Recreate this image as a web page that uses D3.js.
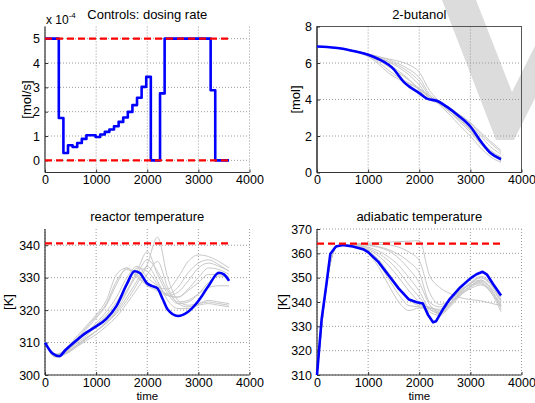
<!DOCTYPE html>
<html>
<head>
<meta charset="utf-8">
<script src="https://cdn.jsdelivr.net/npm/d3@7"></script>
<style>
  body { margin: 0; background: #fff; }
  svg text { font-family: Arial, "Liberation Sans", Helvetica, sans-serif; fill: #000; }
</style>
</head>
<body>
<div id="chart"></div>
<script>
// ---- data ----
// dosing rate, step changes, units of 1e-4 mol/s
const doseTimes = [0, 270, 360, 450, 540, 630, 720, 810, 990, 1080, 1170, 1260, 1350, 1440, 1530, 1620, 1710, 1800, 1890, 1980, 2070, 2250, 2340, 3240, 3330, 3600];
const doseRates = [5, 1.74, 0.30, 0.62, 0.55, 0.71, 0.88, 1.03, 0.96, 1.06, 1.17, 1.27, 1.40, 1.58, 1.76, 1.99, 2.27, 2.57, 3.02, 3.43, 0, 2.75, 5, 2.88, 0, 0];
const doseBounds = [0, 5];

// shared time grid of the grey (uncertain) runs
const gridTimes = [0, 200, 400, 600, 800, 1000, 1200, 1400, 1600, 1800, 2000, 2200, 2400, 2600, 2800, 3000, 3200, 3400, 3600];

// 2-butanol [mol]
const butanolTimes = [0, 200, 400, 600, 800, 1000, 1200, 1400, 1500, 1600, 1700, 1800, 2000, 2150, 2350, 2550, 2750, 3000, 3200, 3400, 3600];
const butanolNominal = [6.9, 6.88, 6.82, 6.73, 6.6, 6.45, 6.22, 5.9, 5.66, 5.3, 4.95, 4.72, 4.35, 4.05, 3.92, 3.58, 3.15, 2.52, 1.72, 1.05, 0.73];
const butanolRuns = [
  [6.9, 6.88, 6.82, 6.73, 6.62, 6.5, 6.35, 6.22, 6.1, 5.9, 5.5, 4.5, 3.9, 3.5, 3.1, 2.7, 2.1, 1.6, 1.1],
  [6.9, 6.88, 6.82, 6.73, 6.6, 6.45, 6.28, 6.05, 5.75, 5.35, 4.8, 4.1, 3.85, 3.5, 3.05, 2.6, 2.0, 1.4, 1.0],
  [6.9, 6.88, 6.82, 6.72, 6.58, 6.35, 5.95, 5.45, 5.1, 4.85, 4.6, 4.2, 3.7, 3.15, 2.55, 2.0, 1.35, 0.85, 0.55],
  [6.9, 6.88, 6.82, 6.72, 6.58, 6.4, 6.05, 5.6, 5.2, 4.9, 4.55, 4.1, 3.8, 3.3, 2.75, 2.2, 1.55, 1.0, 0.65],
  [6.9, 6.88, 6.82, 6.73, 6.6, 6.42, 6.15, 5.8, 5.45, 5.05, 4.6, 4.1, 3.85, 3.45, 2.95, 2.4, 1.75, 1.15, 0.8],
  [6.9, 6.88, 6.82, 6.73, 6.61, 6.48, 6.3, 6.1, 5.85, 5.5, 5.0, 4.2, 3.8, 3.4, 2.9, 2.35, 1.7, 1.2, 0.85],
  [6.9, 6.88, 6.82, 6.73, 6.6, 6.45, 6.22, 5.92, 5.55, 5.1, 4.5, 4.0, 3.75, 3.3, 2.85, 2.3, 1.6, 1.05, 0.7],
  [6.9, 6.88, 6.82, 6.73, 6.62, 6.5, 6.35, 6.18, 5.95, 5.65, 5.2, 4.3, 3.9, 3.55, 3.15, 2.75, 2.2, 1.7, 1.2]
];

// reactor temperature [K]
const reactorTimes = [0, 150, 280, 400, 600, 800, 1000, 1200, 1400, 1600, 1750, 1850, 2000, 2100, 2200, 2300, 2400, 2600, 2800, 3000, 3200, 3400, 3500, 3600];
const reactorNominal = [310, 306.6, 305.8, 307.7, 310.5, 313, 315, 317.3, 321.3, 328, 332, 331.5, 328.2, 327.4, 326.7, 323.5, 320.2, 318.2, 319.5, 322.8, 327.5, 331.5, 331, 329];
const reactorRuns = [
  [310, 306, 308, 311.5, 315, 318.5, 323, 331, 333, 330, 328, 327, 326.5, 330, 335, 337, 336.5, 335, 333],
  [310, 306, 307.5, 310.5, 314, 317.5, 321.5, 328, 333, 331, 328, 326.5, 325, 327, 331.5, 334.5, 335.5, 334, 332],
  [310, 306.5, 307.5, 310, 313, 316, 319.5, 324, 330, 333.5, 330, 327.5, 324.5, 324, 326.5, 330, 333, 332.5, 331],
  [310, 306, 307, 309.5, 312, 315, 318, 321.5, 326, 332, 338, 331, 325, 322, 322.5, 325, 328.5, 330.5, 330],
  [310, 306, 306.5, 308.5, 311, 313.5, 316, 319, 323, 328, 334, 342.5, 330, 323, 321.5, 322, 322.5, 322, 321.5],
  [310, 305.5, 306.5, 308.5, 310.5, 312.5, 315, 318, 322, 326.5, 331, 335, 327, 322, 321, 322, 323, 322.5, 322],
  [310, 305.8, 306.8, 309, 311.5, 313.5, 316, 319.5, 324, 329, 333.5, 329, 323, 320.5, 320.5, 321.5, 322, 321.5, 321],
  [310, 306, 307.2, 309.8, 312.8, 315.5, 318.5, 322.5, 327.5, 333, 332, 328, 324.5, 324, 326, 328.5, 331, 331, 330],
  [310, 306.2, 307.8, 310.8, 314.5, 318, 322, 329, 332.5, 330.5, 327.5, 326, 324.5, 325.5, 329, 333, 334.5, 333.5, 332],
  [310, 305.7, 306.6, 308.8, 311.2, 313.5, 316.5, 320, 325.5, 331, 335.5, 332, 326, 322.5, 323, 325, 327, 327.5, 327.5]
];
const reactorLimit = 340.6;

// adiabatic temperature [K]
const adiabTimes = [0, 90, 180, 260, 370, 500, 700, 900, 1000, 1200, 1400, 1600, 1800, 1950, 2070, 2170, 2270, 2330, 2460, 2600, 2800, 3000, 3120, 3240, 3320, 3450, 3600];
const adiabNominal = [310, 332.8, 346.6, 359.7, 362.8, 363.4, 362.8, 361.7, 360.5, 356.5, 351, 345.5, 341, 339.9, 339.4, 334.8, 331.7, 332.1, 336.9, 341.3, 346, 349.7, 351.4, 352.4, 351.4, 347.2, 342.7];
const adiabRuns = [
  [310, 349, 363, 363.6, 364, 364.2, 364.4, 364.6, 364.8, 365, 365.2, 351, 346, 343.5, 341.8, 341, 340.5, 339.5, 338.5],
  [310, 349, 363, 363.5, 363.8, 363.5, 362.8, 361.5, 359.5, 356.5, 352, 340, 338, 341, 345, 347, 347.5, 344, 338],
  [310, 349, 363, 363.4, 363.3, 362.5, 361, 358.5, 355, 350, 344.5, 337.5, 337, 340.5, 344.5, 347.5, 349, 346, 340],
  [310, 349, 363, 363.3, 362.8, 361, 357.5, 352, 346, 341, 338.5, 338, 336.5, 339.5, 344, 347.5, 350, 347.5, 341],
  [310, 349, 363, 363.3, 362.5, 360, 354.5, 347, 340, 336.5, 337.5, 337.5, 335.5, 339, 343.5, 346.5, 349, 345.5, 337],
  [310, 349, 363, 363.4, 363, 361.5, 359, 355, 350, 344.5, 340, 336, 334.5, 338, 342.5, 346, 348, 344, 336],
  [310, 349, 363, 363.5, 363.6, 363.2, 362.5, 361, 358, 353.5, 348, 339, 336, 339.5, 344, 348, 350.5, 348, 342],
  [310, 349, 363, 363.3, 362.7, 360.5, 356, 349.5, 343, 338.5, 338, 337, 335, 338.5, 343, 346.5, 348.5, 345, 338.5],
  [310, 349, 363, 363.4, 363.2, 362, 360, 357, 352.5, 347, 342, 337, 335.5, 339, 344, 347.5, 350, 347, 340.5],
  [310, 349, 363, 363.5, 363.7, 363.8, 363.7, 363.5, 362.5, 360.5, 357, 344, 339, 340.5, 343, 345.5, 347, 344.5, 339]
];
const adiabLimit = 364;

const timeTicks = [0, 1000, 2000, 3000, 4000];
const limitSpan = [0, 3600];

// ---- layout ----
const W = 535, H = 403;
const colX = [45, 317], rowY = [26.5, 229], pw = 204.5, ph = 146;

const svg = d3.select("#chart").append("svg")
  .attr("width", W)
  .attr("height", H);

// faint watermark in the top right corner of the page
svg.append("path")
  .attr("d", "M442,0 L476,0 L512,92 L535,46 L535,98 L514,140 L496,140 Z")
  .attr("fill", "#dcdcdc");

// one MATLAB-like subplot
function panel(opts) {
  const g = svg.append("g")
    .attr("transform", "translate(" + opts.x + "," + opts.y + ")");

  const x = d3.scaleLinear().domain([0, 4000]).range([0, pw]);
  const y = d3.scaleLinear().domain(opts.yDomain).range([ph, 0]);

  // dotted grid
  const grid = g.append("g");
  grid.selectAll("line.gx")
    .data(timeTicks)
    .join("line")
      .attr("class", "gx")
      .attr("x1", d => x(d)).attr("x2", d => x(d))
      .attr("y1", 0).attr("y2", ph);
  grid.selectAll("line.gy")
    .data(opts.yTicks)
    .join("line")
      .attr("class", "gy")
      .attr("x1", 0).attr("x2", pw)
      .attr("y1", d => y(d)).attr("y2", d => y(d));
  grid.selectAll("line")
    .attr("stroke", "#9a9a9a")
    .attr("stroke-width", 1)
    .attr("stroke-dasharray", "1,2");

  if (opts.box) {
    g.append("rect")
      .attr("width", pw).attr("height", ph)
      .attr("fill", "none")
      .attr("stroke", "#555");
  }

  // axes, ticks pointing inward
  const xAxis = g.append("g")
    .attr("transform", "translate(0," + ph + ")")
    .call(d3.axisBottom(x).tickValues(timeTicks).tickSize(-3).tickPadding(3).tickFormat(d3.format("d")));
  const yAxis = g.append("g")
    .call(d3.axisLeft(y).tickValues(opts.yTicks).tickSize(-3).tickPadding(5).tickFormat(d3.format("d")));
  [xAxis, yAxis].forEach(a => {
    a.select(".domain").attr("stroke", "#333").attr("stroke-width", 1.2);
    a.selectAll(".tick line").attr("stroke", "#333");
    a.selectAll("text").style("font-size", "12.5px").attr("fill", "#000");
  });
  // MATLAB draws the full axis extent, not just the tick range
  xAxis.select(".domain").attr("d", "M0,0H" + pw);
  yAxis.select(".domain").attr("d", "M0," + ph + "V0");

  // titles
  g.append("text")
    .attr("x", pw / 2).attr("y", -8)
    .attr("text-anchor", "middle")
    .style("font-size", "13px")
    .text(opts.title);
  g.append("text")
    .attr("transform", "translate(" + opts.yLabelX + "," + (ph / 2) + ") rotate(-90)")
    .attr("text-anchor", "middle")
    .style("font-size", "13px")
    .text(opts.yLabel);
  if (opts.xLabel) {
    g.append("text")
      .attr("x", pw / 2).attr("y", ph + 25)
      .attr("text-anchor", "middle")
      .style("font-size", "11.5px")
      .text(opts.xLabel);
  }

  const line = (xs, curve) => d3.line()
    .x((d, i) => x(xs[i]))
    .y(d => y(d))
    .curve(curve);

  // grey runs
  (opts.runs || []).forEach(r => {
    g.append("path")
      .datum(r)
      .attr("d", line(gridTimes, d3.curveMonotoneX))
      .attr("fill", "none")
      .attr("stroke", "#c8c8c8")
      .attr("stroke-width", 1);
  });

  // nominal trajectory
  g.append("path")
    .datum(opts.nominal)
    .attr("d", line(opts.times, opts.curve))
    .attr("fill", "none")
    .attr("stroke", "#0000ff")
    .attr("stroke-width", 2.6)
    .attr("stroke-linejoin", "round");

  // red dashed limits
  (opts.limits || []).forEach(v => {
    g.append("line")
      .attr("x1", x(limitSpan[0])).attr("x2", x(limitSpan[1]))
      .attr("y1", y(v)).attr("y2", y(v))
      .attr("stroke", "#ff0000")
      .attr("stroke-width", 2.2)
      .attr("stroke-dasharray", "7,4");
  });

  return g;
}

const p1 = panel({
  x: colX[0], y: rowY[0],
  yDomain: [-0.5, 5.5], yTicks: [0, 1, 2, 3, 4, 5],
  title: "Controls: dosing rate", yLabel: "[mol/s]", yLabelX: -14,
  times: doseTimes, nominal: doseRates, curve: d3.curveStepAfter,
  limits: doseBounds
});
// exponent label of the dosing axis
const expo = p1.append("text")
  .attr("x", 1).attr("y", -3)
  .style("font-size", "12px")
  .text("x 10");
expo.append("tspan")
  .attr("dy", -6)
  .style("font-size", "8px")
  .text("-4");

panel({
  x: colX[1], y: rowY[0], box: true,
  yDomain: [0, 8], yTicks: [0, 2, 4, 6, 8],
  title: "2-butanol", yLabel: "[mol]", yLabelX: -17,
  times: butanolTimes, nominal: butanolNominal, curve: d3.curveMonotoneX,
  runs: butanolRuns
});

panel({
  x: colX[0], y: rowY[1],
  yDomain: [300, 345], yTicks: [300, 310, 320, 330, 340],
  title: "reactor temperature", yLabel: "[K]", yLabelX: -32, xLabel: "time",
  times: reactorTimes, nominal: reactorNominal, curve: d3.curveMonotoneX,
  runs: reactorRuns, limits: [reactorLimit]
});

panel({
  x: colX[1], y: rowY[1],
  yDomain: [310, 370], yTicks: [310, 320, 330, 340, 350, 360, 370],
  title: "adiabatic temperature", yLabel: "[K]", yLabelX: -30, xLabel: "time",
  times: adiabTimes, nominal: adiabNominal, curve: d3.curveLinear,
  runs: adiabRuns, limits: [adiabLimit]
});
</script>
</body>
</html>
